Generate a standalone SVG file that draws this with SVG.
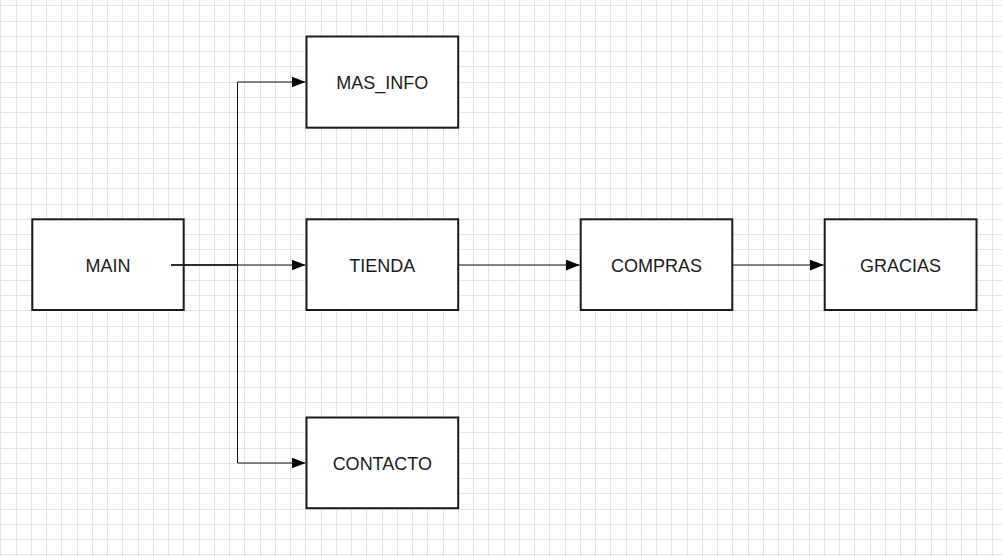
<svg xmlns="http://www.w3.org/2000/svg" width="1002" height="556" viewBox="0 0 1002 556">
<style>
.grid{fill:none;stroke:#e4e4e4;stroke-width:1}
.box{fill:#fff;stroke:#1a1a1a;stroke-width:2}
.lbl{font-family:"Liberation Sans",Arial,sans-serif;font-size:18px;fill:#1a1a1a;text-anchor:middle}
.edge{fill:none;stroke:#111;stroke-width:1;marker-end:url(#arr)}
</style>
<defs>
<marker id="arr" markerUnits="userSpaceOnUse" markerWidth="14" markerHeight="11" refX="14" refY="5.5" orient="auto">
<path d="M0,0L14,5.5L0,11z" fill="#000"/>
</marker>
</defs>
<rect width="1002" height="556" fill="#fff"/>
<path class="grid" d="M0.5,0V556M16.5,0V556M31.5,0V556M46.5,0V556M61.5,0V556M77.5,0V556M92.5,0V556M107.5,0V556M122.5,0V556M138.5,0V556M153.5,0V556M168.5,0V556M183.5,0V556M199.5,0V556M214.5,0V556M229.5,0V556M244.5,0V556M260.5,0V556M275.5,0V556M290.5,0V556M305.5,0V556M321.5,0V556M336.5,0V556M351.5,0V556M366.5,0V556M382.5,0V556M397.5,0V556M412.5,0V556M427.5,0V556M443.5,0V556M458.5,0V556M473.5,0V556M488.5,0V556M504.5,0V556M519.5,0V556M534.5,0V556M549.5,0V556M565.5,0V556M580.5,0V556M595.5,0V556M610.5,0V556M626.5,0V556M641.5,0V556M656.5,0V556M671.5,0V556M687.5,0V556M702.5,0V556M717.5,0V556M732.5,0V556M748.5,0V556M763.5,0V556M778.5,0V556M793.5,0V556M809.5,0V556M824.5,0V556M839.5,0V556M854.5,0V556M870.5,0V556M885.5,0V556M900.5,0V556M915.5,0V556M931.5,0V556M946.5,0V556M961.5,0V556M976.5,0V556M992.5,0V556
M0,5.5H1002M0,21.5H1002M0,36.5H1002M0,51.5H1002M0,66.5H1002M0,82.5H1002M0,97.5H1002M0,112.5H1002M0,127.5H1002M0,143.5H1002M0,158.5H1002M0,173.5H1002M0,188.5H1002M0,204.5H1002M0,219.5H1002M0,234.5H1002M0,249.5H1002M0,265.5H1002M0,280.5H1002M0,295.5H1002M0,310.5H1002M0,326.5H1002M0,341.5H1002M0,356.5H1002M0,371.5H1002M0,387.5H1002M0,402.5H1002M0,417.5H1002M0,432.5H1002M0,448.5H1002M0,463.5H1002M0,478.5H1002M0,493.5H1002M0,509.5H1002M0,524.5H1002M0,539.5H1002M0,554.5H1002"/>
<g id="node-main">
<rect class="box" x="32.3" y="219.3" width="151.4" height="90.7"/>
<text class="lbl" x="108" y="271.5">MAIN</text>
</g>
<g id="node-mas-info">
<rect class="box" x="306.5" y="36.5" width="151.7" height="91.2"/>
<text class="lbl" x="382.3" y="88.5">MAS_INFO</text>
</g>
<g id="node-tienda">
<rect class="box" x="306.5" y="219.3" width="151.7" height="90.7"/>
<text class="lbl" x="382.3" y="271.5">TIENDA</text>
</g>
<g id="node-contacto">
<rect class="box" x="306.5" y="417.5" width="151.7" height="90.7"/>
<text class="lbl" x="382.3" y="469.5">CONTACTO</text>
</g>
<g id="node-compras">
<rect class="box" x="580.7" y="219.3" width="151.6" height="90.7"/>
<text class="lbl" x="656.5" y="271.5">COMPRAS</text>
</g>
<g id="node-gracias">
<rect class="box" x="824.7" y="219.3" width="151.8" height="90.7"/>
<text class="lbl" x="900.6" y="271.5">GRACIAS</text>
</g>
<g id="connectors">
<path class="edge" d="M171,265H237.5V82H305.5"/>
<path class="edge" d="M171,265H305.5"/>
<path class="edge" d="M171,265H237.5V463H305.5"/>
<path class="edge" d="M458.2,265H579.7"/>
<path class="edge" d="M732.3,265H823.7"/>
</g>
</svg>
